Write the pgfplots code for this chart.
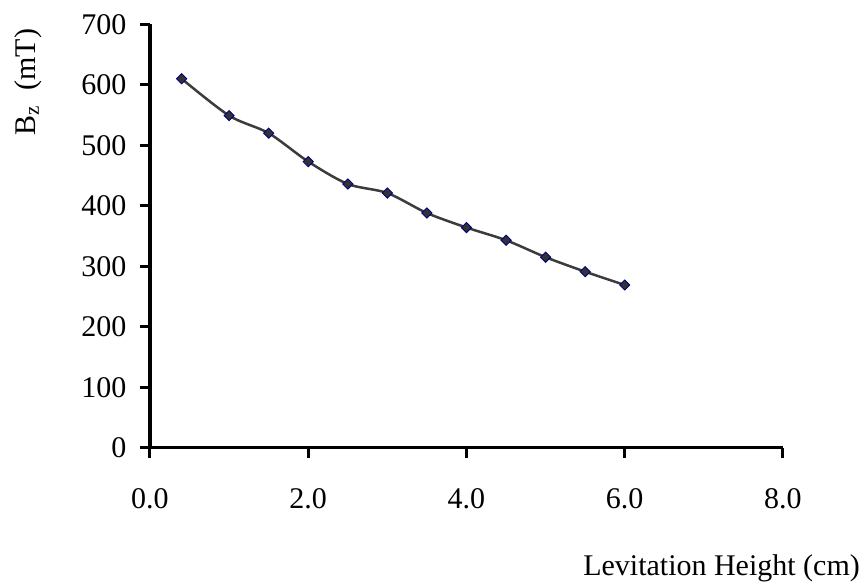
\documentclass[border=0pt]{standalone}
\usepackage{fontspec}
\setmainfont{Liberation Serif}
\usepackage{pgfplots}
\pgfplotsset{compat=1.18}
\definecolor{linegray}{HTML}{3C3C3C}
\definecolor{markfill}{HTML}{333333}
\definecolor{marknavy}{HTML}{000080}
\begin{document}
\begin{tikzpicture}
\path[use as bounding box] (-150pt,-135.3pt) rectangle (713pt,447.7pt);
\begin{axis}[
 at={(0,0)}, anchor=south west, scale only axis,
 width=633pt, height=423.4pt,
 xmin=0, xmax=8, ymin=0, ymax=700,
 axis lines=left,
 axis line style={-, line width=3.2pt, black},
 x axis line style={-, line width=3.2pt, black},
 y axis line style={-, line width=3.2pt, black},
 xtick={0,2,4,6,8}, ytick={0,100,...,700},
 tick align=outside, major tick length=10pt,
 major tick style={black, line width=3pt},
 xticklabel style={/pgf/number format/fixed, /pgf/number format/fixed zerofill, /pgf/number format/precision=1},
 /pgf/number format/assume math mode=true,
 tick label style={font=\fontsize{30}{36}\selectfont},
 xticklabel style={anchor=north, yshift=-27pt},
 yticklabel style={anchor=east, xshift=-10pt},
 xlabel={Levitation Height (cm)},
 xlabel style={font=\fontsize{30}{36}\selectfont, at={(rel axis cs:1.127,-0.3007)}, anchor=base east},
 ylabel={B\textsubscript{z}\ \ (mT)},
 ylabel style={font=\fontsize{30}{36}\selectfont, at={(rel axis cs:-0.1927,0.8637)}, anchor=center},
 clip=false,
]
\addplot[smooth, tension=0.5, color=linegray, line width=2.5pt,
  mark=square*, mark size=3.6pt,
  mark options={rotate=45, fill=markfill, draw=marknavy, line width=0.9pt, solid}]
 coordinates {
 (0.4,610) (1.0,549) (1.5,520) (2.0,473) (2.5,436) (3.0,421)
 (3.5,388) (4.0,364) (4.5,343) (5.0,315) (5.5,291) (6.0,269)
 };
\end{axis}
\end{tikzpicture}
\end{document}
